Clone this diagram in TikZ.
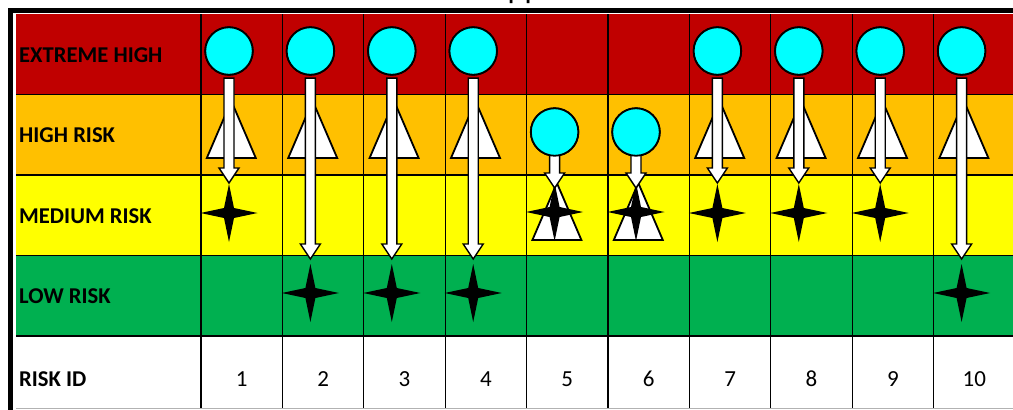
\documentclass[tikz,border=0pt]{standalone}
\usepackage{fontspec}
\setmainfont{Carlito}
\usetikzlibrary{calc}
\definecolor{xred}{RGB}{192,0,0}
\definecolor{xorange}{RGB}{255,192,0}
\definecolor{xyellow}{RGB}{255,255,0}
\definecolor{xgreen}{RGB}{0,176,80}
\definecolor{xcyan}{RGB}{0,255,255}
\tikzset{
  gridline/.style={black, line width=1.2pt},
  riskcircle/.style={circle, draw=black, line width=1.8pt, fill=xcyan, minimum size=47.5pt, inner sep=0pt},
  blockarrow/.style={draw=black, fill=white, line width=1.4pt, line join=miter},
  tribox/.style={draw=black, fill=white, line width=1.8pt, line join=miter},
  starshape/.style={fill=black},
  rowlabel/.style={anchor=base west, inner sep=0pt, font=\fontsize{22.6}{26}\selectfont\bfseries},
  idnum/.style={anchor=base, inner sep=0pt, font=\fontsize{23}{26}\selectfont}
}
\begin{document}
\begin{tikzpicture}[x=1pt,y=-1pt]
\useasboundingbox (0,0) rectangle (1013,410);
\fill[white] (0,0) rectangle (1013,410);
% title fragment (cut off at the top edge, as in the reference)
\begin{scope}
  \clip (480,0) rectangle (560,8);
  \node[anchor=base west, inner sep=0pt, font=\fontsize{32}{36}\selectfont] (title) at (507.5,-1.5) {pp};
\end{scope}
% row fills
\fill[xred]    (16,14)    rectangle (1016,94.5);
\fill[xorange] (16,94.5)  rectangle (1016,175);
\fill[xyellow] (16,175)   rectangle (1016,255.5);
\fill[xgreen]  (16,255.5) rectangle (1016,336);
\fill[white]   (16,336)   rectangle (1016,408);
% grid
\foreach \y in {94.5,175,255.5,336} \draw[gridline] (16,\y) -- (1016,\y);
\foreach \k in {0,...,9} \draw[gridline] (201+81.4*\k,14) -- (201+81.4*\k,408);
\draw[gray!60, line width=1pt] (16,408) -- (1016,408);
% outer thick border
\draw[black, line width=5pt] (8,10.8) -- (1016,10.8);
\draw[black, line width=5pt] (10.8,8) -- (10.8,410);
% row labels
\node[rowlabel] (l1) at (19,62.3)  {EXTREME HIGH};
\node[rowlabel] (l2) at (19,142.8) {HIGH RISK};
\node[rowlabel] (l3) at (19,223.3) {MEDIUM RISK};
\node[rowlabel] (l4) at (19,303.8) {LOW RISK};
\node[rowlabel] (l5) at (19,386)   {RISK ID};
% risk ids
\foreach \i in {1,...,10} \node[idnum] (n\i) at (241.7+81.4*\i-81.4,386.5) {\i};
% markers: col / circle y / star y / arrow tip y / triangle base y / arrow start offset
\foreach \i/\cy/\sy/\ty/\tb/\off in {1/51/213/183/158/2.5, 2/51/293/259/158/2.5, 3/51/293/259/158/2.5, 4/51/293/259/158/2.5, 5/132/212/188/240/-2, 6/132/212/188/240/-2, 7/51/213/183/158/2.5, 8/51/213/183/158/2.5, 9/51/213/183/158/2.5, 10/51/293/259/158/2.5}{
  \pgfmathsetmacro\cx{229+81.4*(\i-1)}
  % triangle
  \coordinate (tb\i) at (\cx+2.3,\tb);
  \draw[tribox] ($(tb\i)+(-24.5,0)$) -- ($(tb\i)+(0,-57)$) -- ($(tb\i)+(24.5,0)$) -- cycle;
  % star
  \coordinate (s\i) at (\cx,\sy);
  \fill[starshape] ($(s\i)+(0,-29)$) -- ($(s\i)+(5,-5)$) -- ($(s\i)+(28.5,0)$) -- ($(s\i)+(5,5)$) -- ($(s\i)+(0,29)$) -- ($(s\i)+(-5,5)$) -- ($(s\i)+(-28.5,0)$) -- ($(s\i)+(-5,-5)$) -- cycle;
  % circle
  \node[riskcircle] (c\i) at (\cx,\cy) {};
  % arrow from circle to star
  \coordinate (t\i) at (\cx,\ty);
  \draw[blockarrow] let \p1=($(c\i.south)+(0,\off)$), \p2=(t\i) in
    (\x1-5pt,\y1) -- (\x1+5pt,\y1) -- (\x1+5pt,\y2+15pt) -- (\x1+10pt,\y2+15pt) -- (\x2,\y2)
    -- (\x1-10pt,\y2+15pt) -- (\x1-5pt,\y2+15pt) -- cycle;
  \node[riskcircle] at (c\i) {};
}
\end{tikzpicture}
\end{document}
